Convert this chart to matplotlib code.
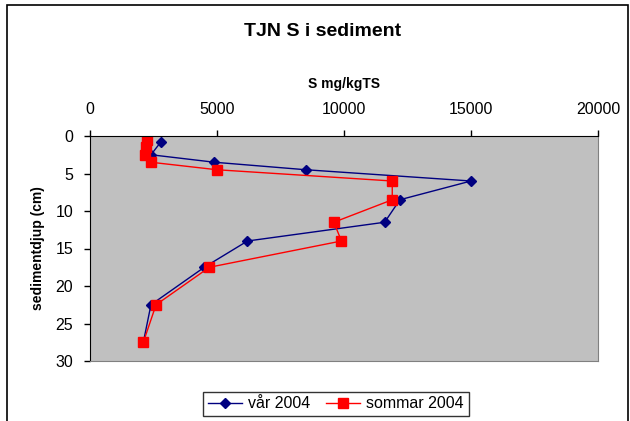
import matplotlib.pyplot as plt
from matplotlib.patches import Rectangle

plt.rcParams['font.family'] = ['Liberation Sans', 'DejaVu Sans']

# S mg/kgTS against sediment depth (cm)
var_depth = [0.75, 2.5, 3.5, 4.5, 6, 8.5, 11.5, 14, 17.5, 22.5, 27.5]
var_s = [2800, 2400, 4900, 8500, 15000, 12200, 11600, 6200, 4500, 2400, 2100]

sommar_depth = [0.5, 1.5, 2.5, 3.5, 4.5, 6, 8.5, 11.5, 14, 17.5, 22.5, 27.5]
sommar_s = [2250, 2200, 2150, 2400, 5000, 11900, 11900, 9600, 9900, 4700, 2600, 2100]

fig = plt.figure(figsize=(6.3, 4.21), dpi=100)

# outer chart frame
fig.patches.append(Rectangle((7 / 630, -0.05), 621 / 630, 1 - 5 / 421 + 0.05,
                             transform=fig.transFigure, fill=False,
                             edgecolor='black', linewidth=1.2))

ax = fig.add_axes([90 / 630, 1 - 361 / 421, 508 / 630, 225 / 421])
ax.set_facecolor('#C0C0C0')

ax.plot(var_s, var_depth, color='#000080', marker='D', markersize=5,
        linewidth=1, label='vår 2004')
ax.plot(sommar_s, sommar_depth, color='#FF0000', marker='s', markersize=7,
        linewidth=1, label='sommar 2004')

ax.set_xlim(0, 20000)
ax.set_ylim(30, 0)
ax.set_xticks([0, 5000, 10000, 15000, 20000])
ax.set_yticks([0, 5, 10, 15, 20, 25, 30])
ax.xaxis.tick_top()
ax.tick_params(axis='both', direction='out', length=4.5, labelsize=11.5, width=1)
ax.tick_params(axis='x', pad=9.5)
ax.tick_params(axis='y', pad=7.5)

for side in ['right', 'bottom']:
    ax.spines[side].set_color('#808080')
for side in ['left', 'top']:
    ax.spines[side].set_color('black')

fig.text(323 / 630, 1 - 32 / 421, 'TJN S i sediment', ha='center', va='center',
         fontsize=14, fontweight='bold')
fig.text(344 / 630, 1 - 84 / 421, 'S mg/kgTS', ha='center', va='center',
         fontsize=10, fontweight='bold')
fig.text(38 / 630, 1 - 248 / 421, 'sedimentdjup (cm)', ha='center', va='center',
         rotation=90, fontsize=10, fontweight='bold')

leg = fig.legend(loc='center', bbox_to_anchor=(336 / 630, 1 - 404 / 421), ncol=2,
                 fontsize=11.5, frameon=True, fancybox=False, edgecolor='black',
                 handlelength=2.1, columnspacing=1.0, handletextpad=0.4,
                 borderpad=0.3)
leg.get_frame().set_linewidth(1)

fig.savefig('out.png', dpi=100)
